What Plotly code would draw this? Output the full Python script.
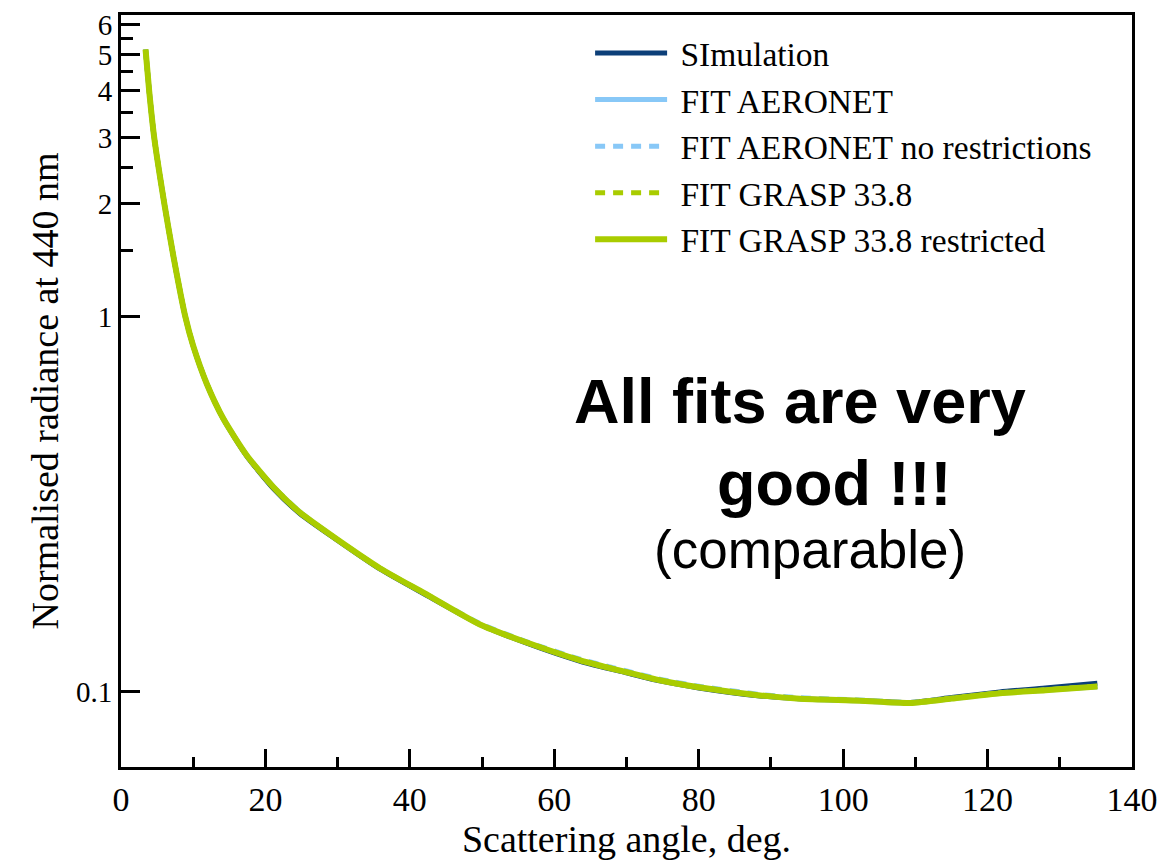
import math
import plotly.graph_objects as go

# Scattering angle (deg.)
angle = [3.4, 3.9, 4.6, 6.0, 7.25, 8.9, 10.0, 11.9, 14.2, 17.4, 21.1, 24.8, 30.0, 35.9,
         42.0, 49.7, 56.0, 63.6, 70.0, 74.6, 80.0, 88.5, 94.0, 102.3, 109.3, 115.0,
         121.7, 128.0, 135.2]

simulation = [5.15, 4.0, 3.0, 2.0, 1.45, 1.0, 0.835, 0.660, 0.532, 0.425, 0.348, 0.298,
              0.253, 0.212, 0.182, 0.151, 0.1350, 0.1205, 0.1122, 0.1068, 0.1023, 0.0974,
              0.0957, 0.0947, 0.0936, 0.0964, 0.0998, 0.1022, 0.1053]
fit_aeronet = [5.15, 4.0, 3.0, 2.0, 1.45, 1.0, 0.835, 0.660, 0.533, 0.427, 0.352, 0.301,
               0.254, 0.213, 0.183, 0.151, 0.1356, 0.1212, 0.1127, 0.1072, 0.1027, 0.0977,
               0.0956, 0.0945, 0.0932, 0.0957, 0.0990, 0.1008, 0.1030]
fit_aeronet_nr = [5.15, 4.0, 3.0, 2.0, 1.45, 1.0, 0.835, 0.660, 0.533, 0.427, 0.352, 0.301,
                  0.254, 0.213, 0.183, 0.152, 0.1362, 0.1220, 0.1135, 0.1080, 0.1034, 0.0983,
                  0.0963, 0.0950, 0.0936, 0.0960, 0.0992, 0.1010, 0.1032]
fit_grasp = [5.15, 4.0, 3.0, 2.0, 1.45, 1.0, 0.835, 0.660, 0.533, 0.427, 0.351, 0.300,
             0.254, 0.213, 0.183, 0.151, 0.1357, 0.1213, 0.1128, 0.1073, 0.1028, 0.0978,
             0.0958, 0.0947, 0.0934, 0.0959, 0.0991, 0.1010, 0.1033]
fit_grasp_r = [5.15, 4.0, 3.0, 2.0, 1.45, 1.0, 0.835, 0.660, 0.533, 0.427, 0.351, 0.300,
               0.254, 0.213, 0.183, 0.151, 0.1356, 0.1212, 0.1127, 0.1072, 0.1027, 0.0977,
               0.0957, 0.0946, 0.0933, 0.0958, 0.0990, 0.1009, 0.1032]

names = ["SImulation", "FIT AERONET", "FIT AERONET no restrictions",
         "FIT GRASP 33.8", "FIT GRASP 33.8 restricted"]
series = [simulation, fit_aeronet, fit_aeronet_nr, fit_grasp, fit_grasp_r]
colors = ["#0c3f78", "#88c8f7", "#88c8f7", "#a9cc00", "#a9cc00"]
dashes = ["solid", "solid", "10px,8px", "10px,8px", "solid"]
widths = [5, 5, 5, 5, 6]

y_major = [0.1, 1, 2, 3, 4, 5, 6]
y_minor = [1.5, 2.5, 3.5, 4.5, 5.5]
x_major = [0, 20, 40, 60, 80, 100, 120, 140]
x_minor = [10, 30, 50, 70, 90, 110, 130]

SERIF = "Liberation Serif"
fig = go.Figure()
for nm, ys, c, d, w in zip(names, series, colors, dashes, widths):
    fig.add_trace(go.Scatter(x=angle, y=ys, name="\u00a0" + nm, mode="lines",
                             line=dict(color=c, width=w, dash=d, shape="spline",
                                       smoothing=0.6)))

fig.update_layout(
    width=1176, height=863,
    margin=dict(l=121, r=44, t=9, b=96),
    paper_bgcolor="white", plot_bgcolor="white",
    font=dict(family=SERIF, size=34, color="black"),
    showlegend=True,
    legend=dict(x=0.464, y=0.987, xanchor="left", yanchor="top",
                bgcolor="rgba(0,0,0,0)", font=dict(family=SERIF, size=33.5),
                itemwidth=72, tracegroupgap=0),
    xaxis=dict(range=[0, 140], tickmode="array", tickvals=x_major,
               ticks="inside", ticklen=18, tickwidth=2.5, tickcolor="black",
               showline=True, linewidth=3, linecolor="black", mirror=True,
               showgrid=False, zeroline=False,
               minor=dict(tickmode="array", tickvals=x_minor, ticks="inside",
                          ticklen=10, tickwidth=2.5, tickcolor="black", showgrid=False),
               title=dict(text="Scattering angle, deg.", font=dict(size=38), standoff=6),
               tickfont=dict(size=34)),
    yaxis=dict(type="log", range=[-1.201, 0.804], tickmode="array",
               tickvals=y_major, ticktext=["0.1", "1", "2", "3", "4", "5", "6"],
               ticks="inside", ticklen=19, tickwidth=2.5, tickcolor="black",
               showline=True, linewidth=3, linecolor="black", mirror=True,
               showgrid=False, zeroline=False,
               minor=dict(tickmode="array", tickvals=y_minor, ticks="inside",
                          ticklen=12, tickwidth=2.5, tickcolor="black", showgrid=False),
               title=dict(text="Normalised radiance at 440 nm", font=dict(size=38), standoff=6),
               tickfont=dict(size=29)),
)

SANS = "Liberation Sans"
fig.add_annotation(x=94.0, y=math.log10(0.595), xref="x", yref="y",
                   text="<b>All fits are very</b>",
                   showarrow=False, font=dict(family=SANS, size=63, color="black"),
                   xanchor="center", yanchor="middle")
fig.add_annotation(x=98.7, y=math.log10(0.36), xref="x", yref="y", text="<b>good !!!</b>",
                   showarrow=False, font=dict(family=SANS, size=63, color="black"),
                   xanchor="center", yanchor="middle")
fig.add_annotation(x=95.4, y=math.log10(0.24), xref="x", yref="y", text="(comparable)",
                   showarrow=False, font=dict(family=SANS, size=53, color="black"),
                   xanchor="center", yanchor="middle")

fig.write_html("out.html")
